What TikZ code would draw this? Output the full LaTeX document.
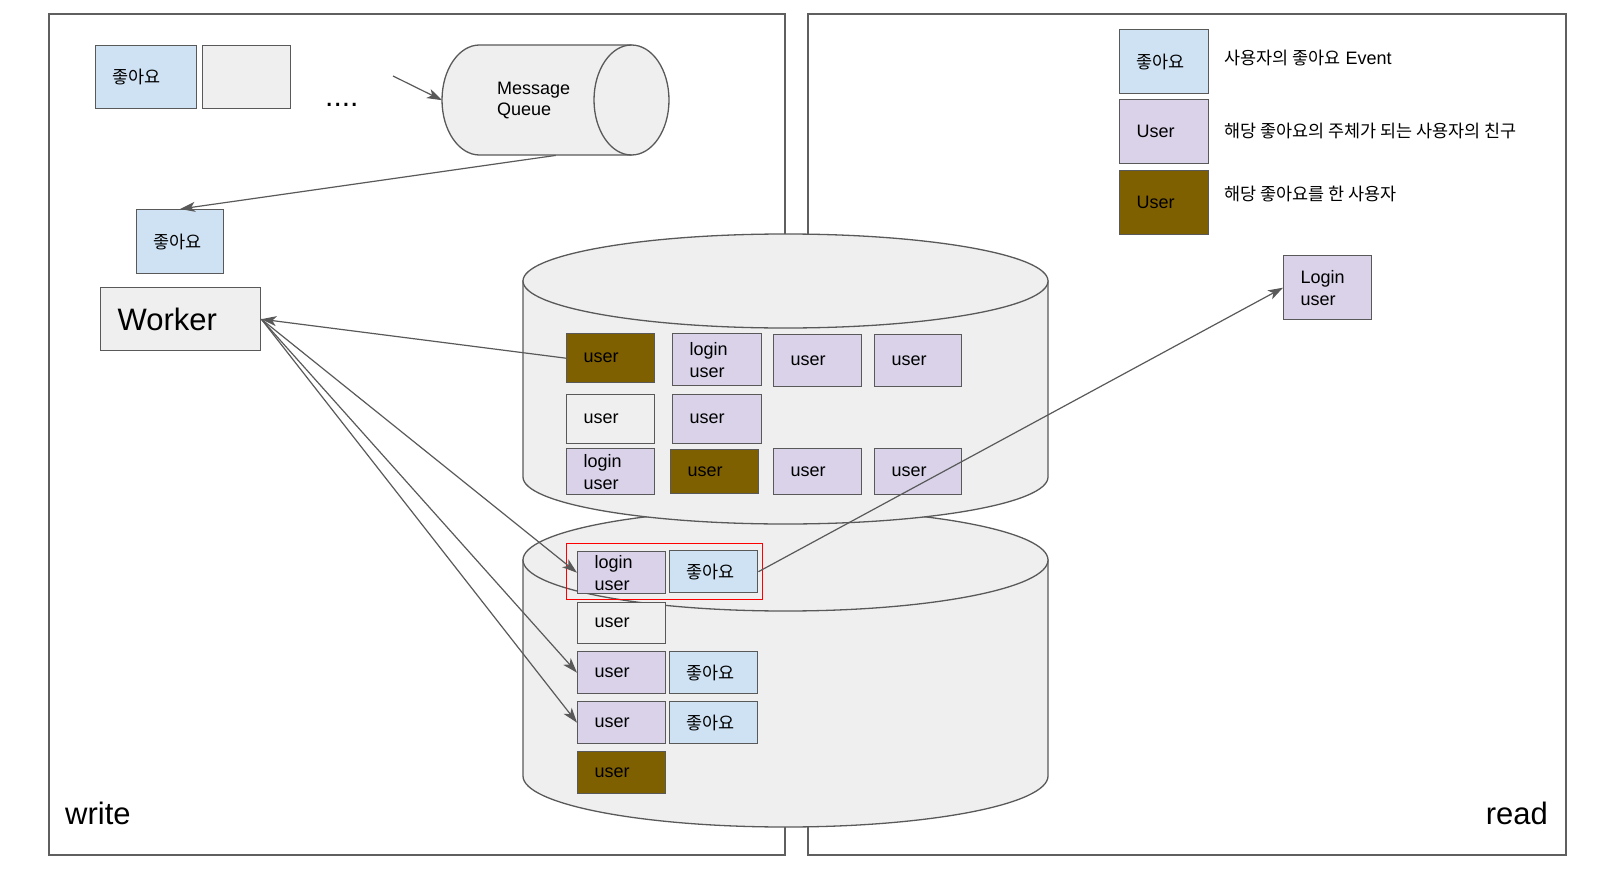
\documentclass[tikz,border=0pt]{standalone}
\usepackage{fontspec}
\setmainfont{Liberation Sans}
\newfontfamily\kr[Scale=0.97]{Noto Sans CJK KR}
\usetikzlibrary{arrows.meta}
\definecolor{likeblue}{HTML}{CFE2F3}
\definecolor{lav}{HTML}{D9D2E9}
\definecolor{brownc}{HTML}{7F6000}
\definecolor{lgray}{HTML}{EFEFEF}
\definecolor{edge}{HTML}{595959}
\definecolor{panelc}{HTML}{5F5F5F}
\tikzset{
  box/.style={draw=edge, line width=1.4pt, inner xsep=17pt, inner ysep=0pt,
    align=left, anchor=north west, text width=54pt,
    font=\fontsize{18pt}{22pt}\selectfont, text=black},
  panel/.style={draw=panelc, line width=1.3pt},
  cyl/.style={fill=lgray, draw=edge, line width=1.3pt},
  conn/.style={draw=edge, line width=1.2pt, -{Stealth[length=15pt,width=10pt,inset=4pt]}},
  bigtxt/.style={font=\fontsize{31pt}{36pt}\selectfont, inner sep=0pt},
  desc/.style={font=\fontsize{18pt}{22pt}\selectfont, inner sep=0pt, anchor=base west}
}
\begin{document}
\begin{tikzpicture}[x=1pt,y=-1pt]
\useasboundingbox (0,0) rectangle (1600,883);
% panels
\draw[panel] (49,14) rectangle (785,855);
\draw[panel] (808,14) rectangle (1566,855);
\node[bigtxt, anchor=base west] (writelbl) at (65,824) {write};
\node[bigtxt, anchor=base east] (readlbl) at (1548,824) {read};

% message queue cylinder
\path[cyl, draw=none] (631.5,45) -- (479.5,45)
  .. controls (458.8,45) and (442,69.6) .. (442,100)
  .. controls (442,130.4) and (458.8,155) .. (479.5,155) -- (631.5,155)
  .. controls (652.2,155) and (669,130.4) .. (669,100)
  .. controls (669,69.6) and (652.2,45) .. (631.5,45) -- cycle;
\draw[draw=edge, line width=1.3pt] (631.5,45) -- (479.5,45)
  .. controls (458.8,45) and (442,69.6) .. (442,100)
  .. controls (442,130.4) and (458.8,155) .. (479.5,155) -- (631.5,155);
\draw[draw=edge, line width=1.3pt] (631.5,100) ellipse [x radius=37.5pt, y radius=55pt];
\node[anchor=north west, inner xsep=55pt, inner ysep=0pt, minimum height=110pt,
  text width=117pt, align=left, font=\fontsize{18pt}{21pt}\selectfont] (mq) at (442,45) {Message\\Queue};

% top-left items
\node[box, fill=likeblue, text width=67pt, minimum height=63pt] (like1) at (95,45) {\kr 좋아요};
\node[box, fill=lgray, minimum height=63pt] (gray1) at (202,45) {};
\node[font=\fontsize{30pt}{30pt}\selectfont, inner sep=0pt, anchor=base west] (dots) at (325,106) {....};
\coordinate (dotsin) at (393,76);
\node[box, fill=likeblue, text width=53pt, minimum height=64pt] (like2) at (136,209) {\kr 좋아요};
\node[box, fill=lgray, text width=126pt, minimum height=63pt, font=\fontsize{31pt}{36pt}\selectfont] (worker) at (100,287) {Worker};

% DB2 (lower cylinder)
\path[cyl] (523,560) -- (523,776)
  .. controls (523,804) and (640.5,827) .. (785.5,827)
  .. controls (930.5,827) and (1048,804) .. (1048,776) -- (1048,560) -- cycle;
\draw[cyl] (785.5,560) ellipse [x radius=262.5pt, y radius=51pt];
% DB1 (upper cylinder)
\path[cyl] (523,281) -- (523,477)
  .. controls (523,503) and (640.5,524) .. (785.5,524)
  .. controls (930.5,524) and (1048,503) .. (1048,477) -- (1048,281) -- cycle;
\draw[cyl] (785.5,281) ellipse [x radius=262.5pt, y radius=47pt];

% DB1 boxes
\node[box, fill=brownc, minimum height=49pt] (b1) at (566,333) {user};
\node[box, fill=lav, text width=55pt, minimum height=52pt] (b2) at (672,333) {login\\user};
\node[box, fill=lav, minimum height=52pt] (b3) at (773,334) {user};
\node[box, fill=lav, text width=53pt, minimum height=52pt] (b4) at (874,334) {user};
\node[box, fill=lgray, minimum height=49pt] (b5) at (566,394) {user};
\node[box, fill=lav, text width=55pt, minimum height=49pt] (b6) at (672,394) {user};
\node[box, fill=lav, minimum height=46pt] (b7) at (566,448) {login\\user};
\node[box, fill=brownc, minimum height=44pt] (b8) at (670,449) {user};
\node[box, fill=lav, minimum height=46pt] (b9) at (773,448) {user};
\node[box, fill=lav, text width=53pt, minimum height=46pt] (b10) at (874,448) {user};

% DB2 boxes
\node[box, fill=lav, minimum height=42pt] (c1) at (577,551) {login\\user};
\node[box, fill=likeblue, minimum height=42pt] (c2) at (669,550) {\kr 좋아요};
\node[box, fill=lgray, minimum height=41pt] (c3) at (577,602) {user};
\node[box, fill=lav, minimum height=42pt] (c4) at (577,651) {user};
\node[box, fill=likeblue, minimum height=42pt] (c5) at (669,651) {\kr 좋아요};
\node[box, fill=lav, minimum height=42pt] (c6) at (577,701) {user};
\node[box, fill=likeblue, minimum height=42pt] (c7) at (669,701) {\kr 좋아요};
\node[box, fill=brownc, minimum height=42pt] (c8) at (577,751) {user};
\node[draw=red, line width=1.4pt, anchor=north west, minimum width=196pt, minimum height=56pt, inner sep=0pt] (hl) at (566,543) {};

% legend
\node[box, fill=likeblue, text width=55pt, minimum height=64pt] (l1) at (1119,29) {\kr 좋아요};
\node[box, fill=lav, text width=55pt, minimum height=64pt] (l2) at (1119,99) {User};
\node[box, fill=brownc, text width=55pt, minimum height=64pt] (l3) at (1119,170) {User};
\node[desc] (d1) at (1224,64) {{\kr 사용자의 좋아요} Event};
\node[desc] (d2) at (1224,137) {\kr 해당 좋아요의 주체가 되는 사용자의 친구};
\node[desc] (d3) at (1224,200) {\kr 해당 좋아요를 한 사용자};
\node[box, fill=lav, minimum height=64pt] (login) at (1283,255) {Login\\user};

% connectors
\draw[conn] (dotsin) -- (mq.west);
\draw[conn] (mq.south) -- (like2.north);
\draw[conn] (b1.west) -- (worker.east);
\draw[conn] (worker.east) -- (c1.west);
\draw[conn] (worker.east) -- (c4.west);
\draw[conn] (worker.east) -- (c6.west);
\draw[conn] (c2.east) -- (login.west);
\end{tikzpicture}
\end{document}
